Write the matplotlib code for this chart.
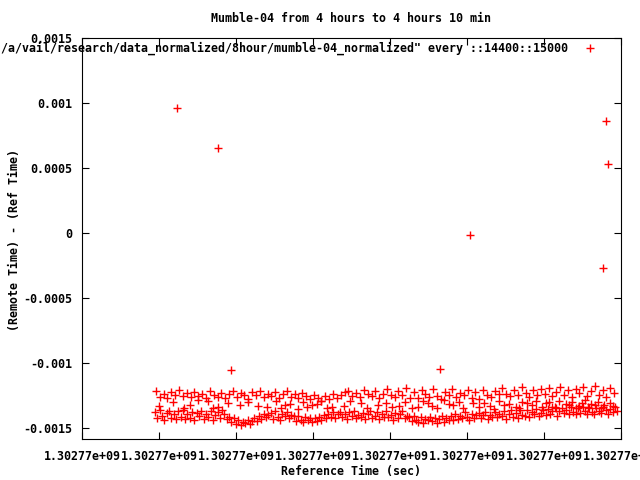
import numpy as np
import matplotlib
matplotlib.use("Agg")
import matplotlib.pyplot as plt
from matplotlib.ticker import FuncFormatter, MultipleLocator

# reference time base (unix seconds) and offsets in seconds
t_base = 1302770000

# lower band (offset sec, value in microseconds)
low_t = [95, 98, 101, 104, 107, 110, 113, 116, 119, 122,
         125, 128, 131, 134, 137, 140, 143, 146, 149, 152,
         155, 158, 161, 164, 167, 170, 173, 176, 179, 182,
         185, 188, 191, 194, 197, 200, 203, 206, 209, 212,
         215, 218, 221, 224, 227, 230, 233, 236, 239, 242,
         245, 248, 251, 254, 257, 260, 263, 266, 269, 272,
         275, 278, 281, 284, 287, 290, 293, 296, 299, 302,
         305, 308, 311, 314, 317, 320, 323, 326, 329, 332,
         335, 338, 341, 344, 347, 350, 353, 356, 359, 362,
         365, 368, 371, 374, 377, 380, 383, 386, 389, 392,
         395, 398, 401, 404, 407, 410, 413, 416, 419, 422,
         425, 428, 431, 434, 437, 440, 443, 446, 449, 452,
         455, 458, 461, 464, 467, 470, 473, 476, 479, 482,
         485, 488, 491, 494, 497, 500, 503, 506, 509, 512,
         515, 518, 521, 524, 527, 530, 533, 536, 539, 542,
         545, 548, 551, 554, 557, 560, 563, 566, 569, 572,
         575, 578, 581, 584, 587, 590, 593, 596, 599, 602,
         605, 608, 611, 614, 617, 620, 623, 626, 629, 632,
         635, 638, 641, 644, 647, 650, 653, 656, 659, 662,
         665, 668, 671, 674, 677, 680, 683, 686, 689, 692, 695]
low_us = [-1380, -1425, -1365, -1410, -1438, -1388, -1370, -1422, -1395, -1433,
          -1372, -1415, -1362, -1430, -1392, -1420, -1375, -1435, -1385, -1405,
          -1368, -1428, -1390, -1412, -1372, -1440, -1398, -1380, -1425, -1365,
          -1395, -1430, -1418, -1455, -1425, -1470, -1440, -1478, -1452, -1462,
          -1435, -1468, -1445, -1420, -1448, -1405, -1430, -1390, -1418, -1402,
          -1385, -1428, -1372, -1415, -1436, -1390, -1410, -1378, -1425, -1398,
          -1410, -1445, -1405, -1438, -1452, -1415, -1440, -1425, -1458, -1420,
          -1448, -1418, -1436, -1402, -1425, -1390, -1412, -1378, -1420, -1395,
          -1375, -1418, -1392, -1430, -1380, -1408, -1368, -1425, -1398, -1415,
          -1385, -1432, -1395, -1370, -1420, -1405, -1378, -1428, -1390, -1412,
          -1372, -1415, -1398, -1435, -1382, -1420, -1392, -1368, -1425, -1405,
          -1418, -1445, -1405, -1438, -1452, -1412, -1460, -1428, -1440, -1415,
          -1448, -1420, -1465, -1432, -1410, -1455, -1425, -1442, -1405, -1438,
          -1395, -1430, -1408, -1425, -1380, -1415, -1440, -1392, -1420, -1400,
          -1385, -1425, -1402, -1378, -1432, -1398, -1412, -1375, -1418, -1390,
          -1410, -1372, -1428, -1395, -1365, -1415, -1382, -1420, -1360, -1400,
          -1405, -1360, -1418, -1378, -1395, -1352, -1410, -1385, -1365, -1398,
          -1352, -1392, -1368, -1340, -1405, -1372, -1345, -1388, -1360, -1395,
          -1338, -1375, -1395, -1350, -1382, -1335, -1368, -1390, -1348, -1378,
          -1392, -1345, -1372, -1385, -1338, -1365, -1395, -1352, -1380, -1340, -1370]

# upper band
up_t = [96, 101, 106, 111, 116, 121, 126, 131, 136, 141,
        146, 151, 156, 161, 166, 171, 176, 181, 186, 191,
        196, 201, 206, 211, 216, 221, 226, 231, 236, 241,
        246, 251, 256, 261, 266, 271, 276, 281, 286, 291,
        296, 301, 306, 311, 316, 321, 326, 331, 336, 341,
        346, 351, 356, 361, 366, 371, 376, 381, 386, 391,
        396, 401, 406, 411, 416, 421, 426, 431, 436, 441,
        446, 451, 456, 461, 466, 471, 476, 481, 486, 491,
        496, 501, 506, 511, 516, 521, 526, 531, 536, 541,
        546, 551, 556, 561, 566, 571, 576, 581, 586, 591,
        596, 601, 606, 611, 616, 621, 626, 631, 636, 641,
        646, 651, 656, 661, 666, 671, 676, 681, 686, 691]
up_us = [-1215, -1262, -1235, -1270, -1225, -1248, -1210, -1258, -1232, -1265,
         -1220, -1255, -1238, -1272, -1212, -1245, -1260, -1228, -1268, -1240,
         -1218, -1262, -1230, -1250, -1275, -1222, -1248, -1212, -1265, -1236,
         -1258, -1225, -1270, -1242, -1215, -1262, -1235, -1272, -1228, -1255,
         -1280, -1245, -1272, -1290, -1255, -1275, -1238, -1268, -1250, -1220,
         -1212, -1252, -1228, -1265, -1205, -1242, -1258, -1218, -1270, -1235,
         -1198, -1245, -1262, -1215, -1250, -1195, -1268, -1225, -1272, -1208,
         -1240, -1265, -1202, -1255, -1275, -1220, -1248, -1198, -1262, -1232,
         -1250, -1210, -1268, -1225, -1278, -1205, -1245, -1262, -1215, -1240,
         -1195, -1238, -1258, -1205, -1245, -1185, -1230, -1262, -1208, -1250,
         -1202, -1240, -1190, -1258, -1220, -1182, -1248, -1210, -1265, -1198,
         -1232, -1188, -1255, -1215, -1180, -1245, -1205, -1260, -1192, -1228]

# scattered points between the bands
mid_t = [100, 118, 132, 140, 150, 163, 170, 176, 190, 205, 215, 228, 240, 252,
         258, 263, 270, 280, 287, 292, 299, 305, 310, 318, 325, 340, 348, 362,
         370, 385, 395, 402, 412, 420, 428, 437, 443, 449, 455, 461, 470, 476,
         482, 490, 495, 508, 515, 522, 530, 535, 541, 548, 555, 563, 568, 572,
         578, 584, 590, 597, 603, 607, 611, 616, 620, 628, 633, 637, 641, 645,
         649, 653, 657, 661, 666, 670, 674, 678, 686, 690]
mid_us = [-1330, -1300, -1345, -1320, -1285, -1290, -1350, -1335, -1310, -1320,
          -1300, -1330, -1340, -1295, -1345, -1325, -1315, -1355, -1300, -1340,
          -1325, -1315, -1290, -1350, -1335, -1330, -1295, -1305, -1345, -1320,
          -1310, -1340, -1330, -1298, -1350, -1335, -1290, -1310, -1330, -1350,
          -1288, -1315, -1325, -1300, -1345, -1305, -1340, -1310, -1330, -1355,
          -1295, -1320, -1315, -1340, -1345, -1300, -1310, -1322, -1290, -1340,
          -1310, -1300, -1335, -1350, -1295, -1318, -1325, -1300, -1345, -1330,
          -1310, -1285, -1340, -1312, -1320, -1298, -1345, -1325, -1305, -1330]

# outliers
out_t = [123, 177, 194, 465, 504, 677, 681, 683]
out_us = [962, 654, -1054, -1046, -15, -269, 862, 531]

t = np.array(low_t + up_t + mid_t + out_t) + t_base
y = np.array(low_us + up_us + mid_us + out_us) * 1e-6

key = '/a/vail/research/data_normalized/8hour/mumble-04_normalized" every ::14400::15000'

plt.rcParams['font.family'] = ['DejaVu Sans Mono']
fs = 8.4

fig = plt.figure(figsize=(6.4, 4.8), dpi=100)
ax = fig.add_axes([82 / 640, 41 / 480, 539 / 640, 401 / 480])

ax.plot(t, y, ls='none', marker='+', ms=6, mew=1.0, color='#ff0000', label=key)

ax.set_xlim(t_base, t_base + 700)
ax.set_ylim(-0.001585, 0.0015)
ax.xaxis.set_major_locator(MultipleLocator(100))
ax.yaxis.set_major_locator(MultipleLocator(0.0005))
ax.xaxis.set_major_formatter(FuncFormatter(lambda v, p: '%g' % v))
ax.yaxis.set_major_formatter(FuncFormatter(lambda v, p: '%g' % v))
ax.tick_params(direction='in', length=5, width=0.8, top=True, right=True,
               labelsize=fs, colors='black')
ax.tick_params(axis='x', pad=8)
ax.tick_params(axis='y', pad=7)
for lab in ax.get_xticklabels() + ax.get_yticklabels():
    lab.set_fontweight('bold')
for s in ax.spines.values():
    s.set_linewidth(0.8)

fig.text(351 / 640, 1 - 18 / 480, 'Mumble-04 from 4 hours to 4 hours 10 min',
         ha='center', va='center', fontsize=fs, fontweight='bold')
fig.text(351 / 640, 1 - 472 / 480, 'Reference Time (sec)',
         ha='center', va='center', fontsize=fs, fontweight='bold')
fig.text(15 / 640, 1 - 240 / 480, '(Remote Time) - (Ref Time)', rotation=90,
         ha='center', va='center', fontsize=fs, fontweight='bold')

leg = ax.legend(loc='upper right', bbox_to_anchor=(1 - 16 / 539, 1 + 2 / 401),
                frameon=False, markerfirst=False,
                prop={'size': fs, 'weight': 'bold'}, handlelength=1.5,
                handletextpad=1.2, borderaxespad=0.3, borderpad=0.2)

fig.savefig('out.png', dpi=100)
